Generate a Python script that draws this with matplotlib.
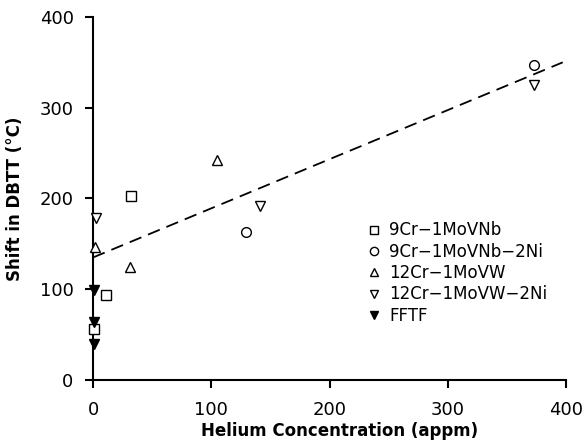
import matplotlib
matplotlib.use("Agg")
import matplotlib.pyplot as plt
import numpy as np

plt.rcParams['font.family'] = ['DejaVu Sans']

# Data (helium appm, DBTT shift °C)
sq_x = [0.8, 11, 32]
sq_y = [56, 94, 203]
ci_x = [129, 373]
ci_y = [163, 347]
tu_x = [1.4, 31, 105]
tu_y = [147, 124, 242]
td_x = [2.8, 141, 373]
td_y = [178, 192, 325]
ff_x = [1, 1, 1]
ff_y = [99, 64, 40]
fit_x = [0, 397]
fit_y = [135, 350]

labels = ["9Cr\u22121MoVNb", "9Cr\u22121MoVNb\u22122Ni", "12Cr\u22121MoVW",
          "12Cr\u22121MoVW\u22122Ni", "FFTF"]

fig = plt.figure(figsize=(5.85, 4.46), dpi=100)
ax = fig.add_axes([0.159, 0.148, 0.809, 0.814])

ax.plot(fit_x, fit_y, color='black', lw=1.3, dashes=(7, 4), zorder=1)

ms = 7
kw = dict(linestyle='none', markerfacecolor='white', markeredgecolor='black',
          markeredgewidth=1.0, clip_on=False, zorder=3)
h1, = ax.plot(sq_x, sq_y, marker='s', markersize=ms, label=labels[0], **kw)
h2, = ax.plot(ci_x, ci_y, marker='o', markersize=ms, label=labels[1], **kw)
h3, = ax.plot(tu_x, tu_y, marker='^', markersize=ms, label=labels[2], **kw)
h4, = ax.plot(td_x, td_y, marker='v', markersize=ms, label=labels[3], **kw)
h5, = ax.plot(ff_x, ff_y, marker='v', markersize=ms, linestyle='none',
              color='black', clip_on=False, zorder=4, label=labels[4])

ax.set_xlim(0, 400)
ax.set_ylim(0, 400)
ax.set_xticks([0, 100, 200, 300, 400])
ax.set_yticks([0, 100, 200, 300, 400])
for s in ['top', 'right']:
    ax.spines[s].set_visible(False)
for s in ['left', 'bottom']:
    ax.spines[s].set_linewidth(1.5)
ax.tick_params(direction='out', length=6, width=1.5, labelsize=13)
ax.tick_params(axis='x', pad=9)
ax.tick_params(axis='y', pad=8)

ax.set_xlabel("Helium Concentration (appm)", fontsize=12, fontweight='bold')
ax.xaxis.set_label_coords(0.52, -0.115)
ax.set_ylabel("Shift in DBTT (\u00b0C)", fontsize=12, fontweight='bold')
ax.yaxis.set_label_coords(-0.146, 0.5)

leg = ax.legend(handles=[h1, h2, h3, h4, h5], loc='upper left',
                bbox_to_anchor=(0.569, 0.455), frameon=False, fontsize=12,
                handlelength=0.6, handletextpad=0.6, labelspacing=0.2,
                markerscale=0.85, borderaxespad=0)

fig.savefig("out.png", dpi=100)
